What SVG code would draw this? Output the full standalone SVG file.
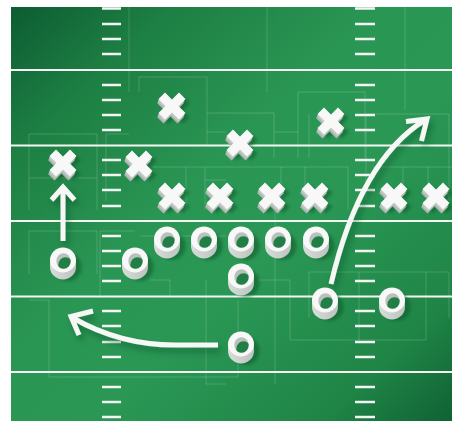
<svg xmlns="http://www.w3.org/2000/svg" xmlns:xlink="http://www.w3.org/1999/xlink" width="452" height="421" viewBox="0 0 452 421">
<style>
.yl{stroke:#f4f7f4;stroke-width:2.2;fill:none}
.hm{stroke:#f2f4f2;stroke-width:2.6}
.deco{stroke:#ffffff;stroke-opacity:.17;stroke-width:1;fill:none}
.arr{stroke:#f6f8f6;stroke-width:5;fill:none;stroke-linecap:butt;stroke-linejoin:miter}
</style>
<defs>
<linearGradient id="field" x1="0" y1="0" x2="1" y2="1">
<stop offset="0" stop-color="#0d5c32"/>
<stop offset="0.18" stop-color="#1d7f43"/>
<stop offset="0.42" stop-color="#2a9654"/>
<stop offset="0.6" stop-color="#2a9755"/>
<stop offset="0.85" stop-color="#1f8546"/>
<stop offset="1" stop-color="#0f6234"/>
</linearGradient>
<filter id="blur" x="-50%" y="-50%" width="200%" height="200%"><feGaussianBlur stdDeviation="1.4"/></filter>
<filter id="ash" x="-30%" y="-30%" width="160%" height="160%"><feDropShadow dx="3" dy="5" stdDeviation="3" flood-color="#0a4522" flood-opacity=".45"/></filter>
<path id="xp" d="M-13.5,-7 L-7,-13.5 L0,-6.5 L7,-13.5 L13.5,-7 L6.5,0 L13.5,7 L7,13.5 L0,6.5 L-7,13.5 L-13.5,7 L-6.5,0 Z"/>
<g id="xs">
<use xlink:href="#xp" transform="translate(4,4)" fill="#0f5a2c" opacity=".55" filter="url(#blur)"/>
<use xlink:href="#xp" transform="translate(-1.5,4)" fill="#aeb6b1"/>
<use xlink:href="#xp" transform="translate(-0.8,2)" fill="#c3cac5"/>
<use xlink:href="#xp" fill="#f7f8f7"/>
</g>
<clipPath id="hole"><ellipse cx="0.5" cy="1" rx="7.2" ry="7.8"/></clipPath>
<linearGradient id="side" x1="0" y1="0" x2="1" y2="0">
<stop offset="0" stop-color="#d8ddda"/>
<stop offset="1" stop-color="#bcc4bf"/>
</linearGradient>
<g id="ring">
<ellipse cx="5" cy="7" rx="13.5" ry="14" fill="#0f5a2c" opacity=".55" filter="url(#blur)"/>
<path d="M-13,0 L-13,7 A13,12.5 0 0 0 13,7 L13,0 Z" fill="url(#side)"/>
<ellipse cx="0" cy="0" rx="13" ry="12.5" fill="#f7f8f7"/>
<ellipse cx="0.5" cy="1" rx="7.2" ry="7.8" fill="#b9c1bc"/>
<ellipse cx="2.5" cy="5" rx="7.2" ry="7.8" fill="#217e45" clip-path="url(#hole)"/>
</g>
</defs>
<rect x="0" y="0" width="452" height="421" fill="#ffffff"/>
<rect x="11" y="7" width="441" height="414" fill="url(#field)"/>
<g id="decor">
<path class="deco" d="M129,7V92 M139,92V77H207V145 M207,113H274V158 M207,132H226 M29,210V134H97V210 M29,178H97 M106,201V134H129 M153,167H348 M186,167V210 M205,167V210 M205,180H226 M267,7V92 M405,7V110 M298,158V92H365V158 M309,158V114 M366,200V114H449V200 M274,132H298 M281,167V210 M305,167V210 M348,167V210 M373,167H452 M403,167V210 M428,167V210 M29,274V231H97V274 M29,300H49V377H226 M100,231V297 M100,231H135 M150,280H170V297 M140,236H226 M206,280V384H226 M258,280H290V340H426 M309,318V272H449V318 M359,272V340 M426,272V340 M275,210V384 M238,300V377 M226,377H238"/>
</g>
<g id="yardlines">
<path class="yl" d="M11,70H452 M11,145.5H452 M11,221H452 M11,296.5H452 M11,372H452"/>
</g>
<g id="hashmarks">
<path class="hm" d="M102,8.5H121 M102,24H121 M102,39H121 M102,54H121 M102,85H121 M102,100H121 M102,115H121 M102,130H121 M102,160H121 M102,175H121 M102,190H121 M102,206H121 M102,236H121 M102,251H121 M102,266H121 M102,281H121 M102,311H121 M102,326H121 M102,342H121 M102,357H121 M102,387H121 M102,402H121 M102,417H121"/>
<path class="hm" d="M355,8.5H375 M355,24H375 M355,39H375 M355,54H375 M355,85H375 M355,100H375 M355,115H375 M355,130H375 M355,160H375 M355,175H375 M355,190H375 M355,206H375 M355,236H375 M355,251H375 M355,266H375 M355,281H375 M355,311H375 M355,326H375 M355,342H375 M355,357H375 M355,387H375 M355,402H375 M355,417H375"/>
</g>
<g id="connectors" filter="url(#ash)">
<path class="arr" d="M63,241V188 M51.5,200L63,187L74.5,200"/>
<path class="arr" d="M218,345H175Q120,345 73,318 M93,311L71,316.5L79,335"/>
<path class="arr" d="M331,284Q360,160 425,120 M406,121.5L427,119L421.5,141"/>
</g>
<g id="x1" transform="translate(172,106)"><use xlink:href="#xs"/></g>
<g id="x2" transform="translate(240,143)"><use xlink:href="#xs"/></g>
<g id="x3" transform="translate(331,121)"><use xlink:href="#xs"/></g>
<g id="x4" transform="translate(63,163)"><use xlink:href="#xs"/></g>
<g id="x5" transform="translate(139,164)"><use xlink:href="#xs"/></g>
<g id="x6" transform="translate(172,196)"><use xlink:href="#xs"/></g>
<g id="x7" transform="translate(220,196)"><use xlink:href="#xs"/></g>
<g id="x8" transform="translate(272,196)"><use xlink:href="#xs"/></g>
<g id="x9" transform="translate(315,196)"><use xlink:href="#xs"/></g>
<g id="x10" transform="translate(394,196)"><use xlink:href="#xs"/></g>
<g id="x11" transform="translate(436,196)"><use xlink:href="#xs"/></g>
<g id="o1" transform="translate(63,260)"><use xlink:href="#ring"/></g>
<g id="o2" transform="translate(135,260)"><use xlink:href="#ring"/></g>
<g id="o3" transform="translate(167,239)"><use xlink:href="#ring"/></g>
<g id="o4" transform="translate(204,239)"><use xlink:href="#ring"/></g>
<g id="o5" transform="translate(241,239)"><use xlink:href="#ring"/></g>
<g id="o6" transform="translate(278,239)"><use xlink:href="#ring"/></g>
<g id="o7" transform="translate(316,239)"><use xlink:href="#ring"/></g>
<g id="o8" transform="translate(241,276)"><use xlink:href="#ring"/></g>
<g id="o9" transform="translate(325,300)"><use xlink:href="#ring"/></g>
<g id="o10" transform="translate(392,300)"><use xlink:href="#ring"/></g>
<g id="o11" transform="translate(241,344)"><use xlink:href="#ring"/></g>
</svg>
